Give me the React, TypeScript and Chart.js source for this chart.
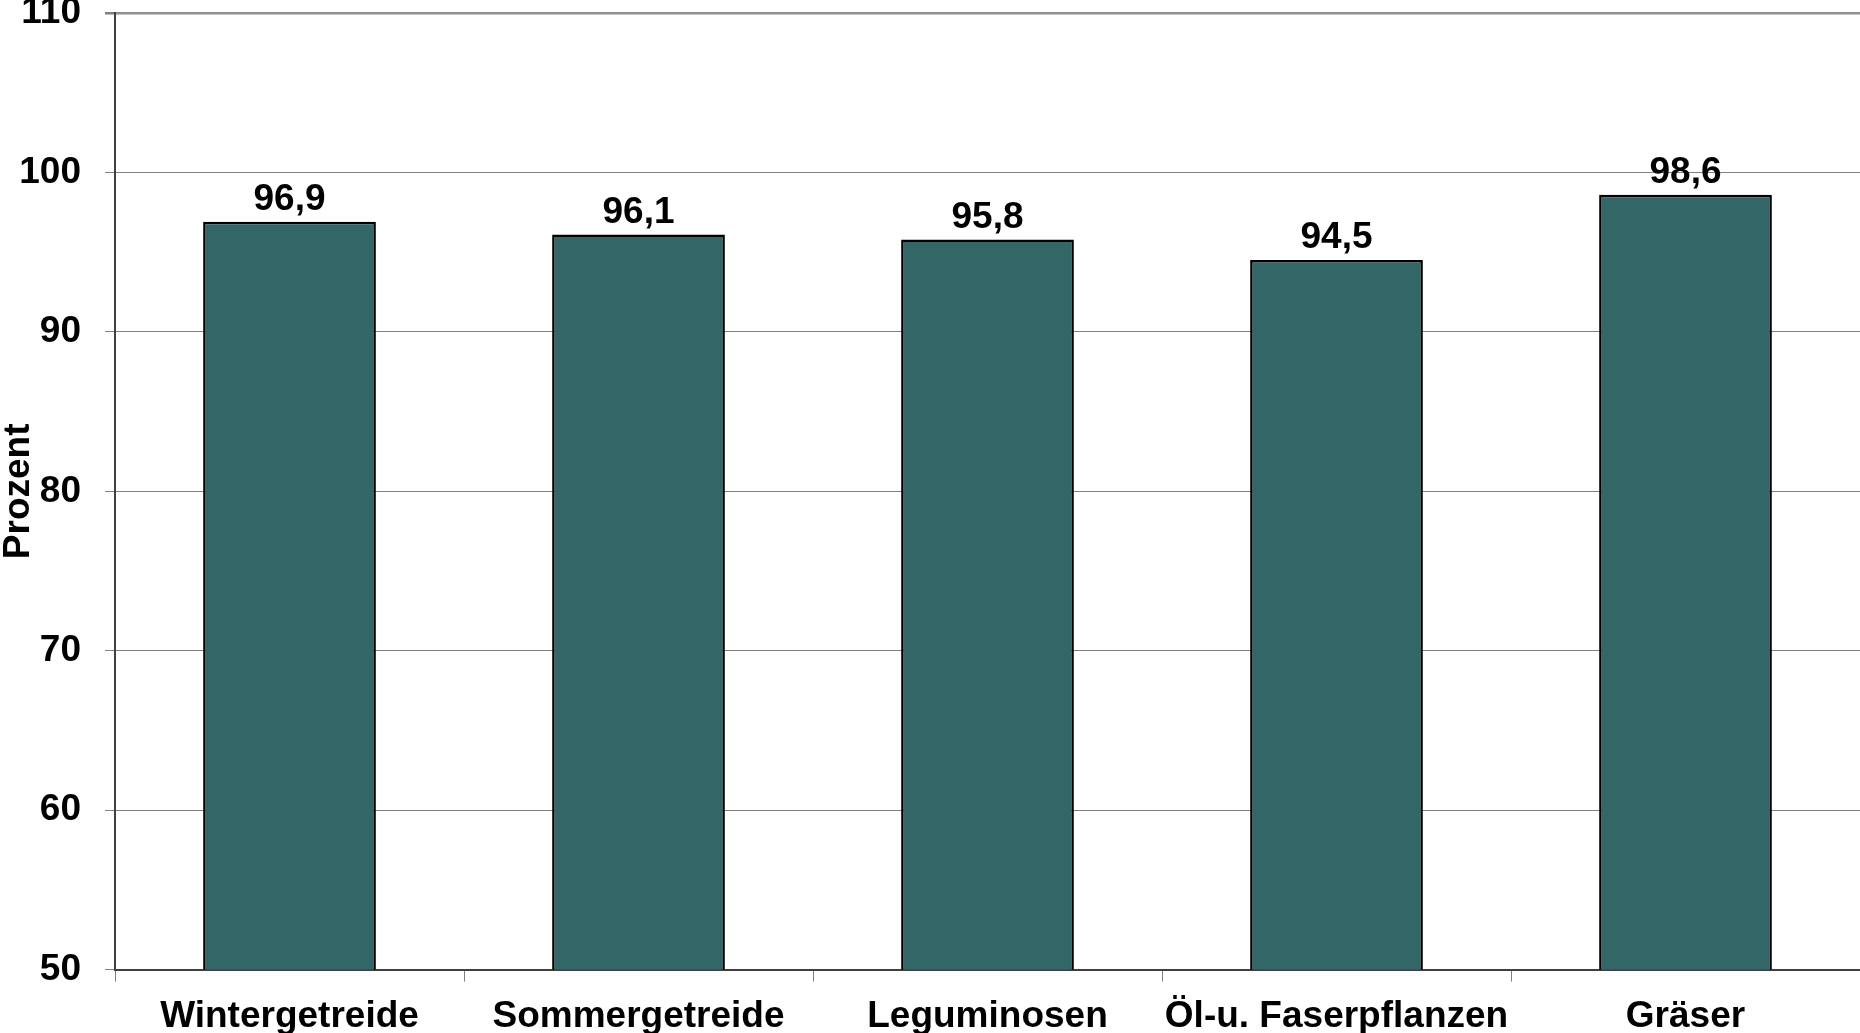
import React, { useEffect, useRef } from "react";
import { Chart, registerables } from "chart.js";

Chart.register(...registerables);

const categories = ["Wintergetreide", "Sommergetreide", "Leguminosen", "Öl-u. Faserpflanzen", "Gräser"];
const values = [96.9, 96.1, 95.8, 94.5, 98.6];
const yMin = 50;
const yMax = 110;
const yStep = 10;
const yTitle = "Prozent";

const FONT = "'Liberation Sans', Arial, sans-serif";

const valueLabels = {
  id: "valueLabels",
  afterDatasetsDraw(chart: any) {
    const ctx = chart.ctx;
    const meta = chart.getDatasetMeta(0);
    ctx.save();
    ctx.font = `bold 37px ${FONT}`;
    ctx.fillStyle = "#000";
    ctx.textAlign = "center";
    ctx.textBaseline = "middle";
    meta.data.forEach((bar: any, i: number) => {
      const txt = values[i].toFixed(1).replace(".", ",");
      ctx.fillText(txt, bar.x, bar.y - 22);
    });
    ctx.restore();
  },
};

export default function App() {
  const ref = useRef<HTMLCanvasElement | null>(null);
  useEffect(() => {
    document.documentElement.style.overflow = "hidden";
    document.body.style.margin = "0";
    document.body.style.overflow = "hidden";
    const canvas = ref.current!;
    const chart = new Chart(canvas, {
      type: "bar",
      data: {
        labels: categories,
        datasets: [
          {
            data: values,
            backgroundColor: "#336666",
            borderColor: "#000000",
            borderWidth: 2.5,
            barPercentage: 0.495,
            categoryPercentage: 1,
          },
        ],
      },
      options: {
        animation: false,
        responsive: false,
        devicePixelRatio: 1,
        layout: { padding: { top: 63, right: 0, bottom: 0, left: 0 } },
        plugins: {
          legend: { display: false },
          tooltip: { enabled: false },
          title: { display: false },
        },
        scales: {
          x: {
            offset: true,
            grid: {
              display: true,
              offset: true,
              drawOnChartArea: false,
              drawTicks: true,
              tickLength: 12,
              color: "#808080",
            },
            border: { display: true, color: "#404040", width: 2 },
            ticks: {
              color: "#000",
              font: { family: FONT, size: 37, weight: "bold" },
              padding: 13,
              maxRotation: 0,
              autoSkip: false,
            },
          },
          y: {
            min: yMin,
            max: yMax,
            afterFit(scale: any) {
              scale.width = 115;
            },
            ticks: {
              stepSize: yStep,
              color: "#000",
              font: { family: FONT, size: 37, weight: "bold" },
              padding: 24,
            },
            grid: {
              color: (c: any) => (c.tick && c.tick.value === yMax ? "#909090" : "#808080"),
              lineWidth: (c: any) => (c.tick && c.tick.value === yMax ? 2.5 : 1),
              tickLength: 10,
              tickColor: "#808080",
            },
            border: { display: true, color: "#404040", width: 2 },
            title: {
              display: true,
              text: yTitle,
              color: "#000",
              font: { family: FONT, size: 37, weight: "bold", lineHeight: 1 },
              padding: 0,
            },
          },
        },
      },
      plugins: [valueLabels],
    });
    return () => chart.destroy();
  }, []);
  return (
    <div style={{ position: "absolute", left: 0, top: -50, width: 1860, height: 1102 }}>
      <canvas ref={ref} width={1860} height={1102} style={{ display: "block" }} />
    </div>
  );
}
